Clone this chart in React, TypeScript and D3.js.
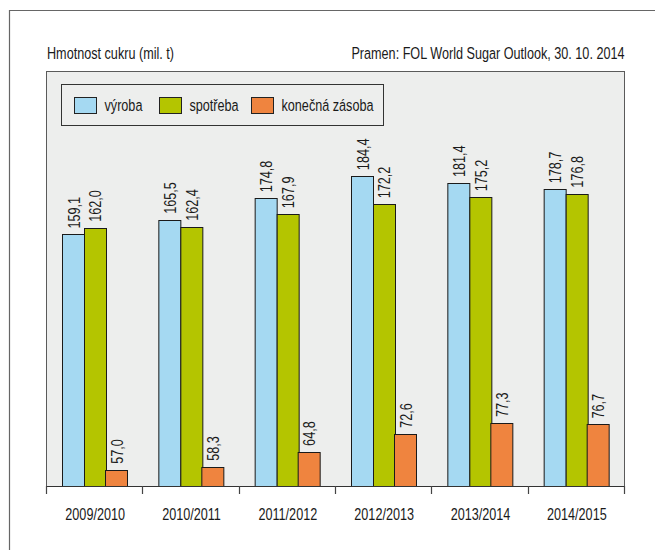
import * as d3 from 'd3';
import React, { useEffect, useRef } from 'react';

const seasons = ["2009/2010", "2010/2011", "2011/2012", "2012/2013", "2013/2014", "2014/2015"];
const keys = ["výroba", "spotřeba", "konečná zásoba"];
const vyroba = [159.1, 165.5, 174.8, 184.4, 181.4, 178.7];
const spotreba = [162.0, 162.4, 167.9, 172.2, 175.2, 176.8];
const zasoba = [57.0, 58.3, 64.8, 72.6, 77.3, 76.7];
const colors = ["#a5d9f2", "#b4c500", "#ef843f"];

const unitLabel = "Hmotnost cukru (mil. t)";
const sourceLabel = "Pramen: FOL World Sugar Outlook, 30. 10. 2014";

// no narrow font installed -> squeeze Liberation Sans horizontally (Arial Narrow ~ 0.82)
const font = "'Liberation Sans', Arial, sans-serif";
const fontSize = 15.6;
const squeeze = 0.81;
const fmt = (v: number) => v.toFixed(1).replace(".", ",");

export default function App() {
  const svgRef = useRef<SVGSVGElement>(null);
  const W = 655, H = 550;
  const plot = { left: 46, right: 624, top: 71, bottom: 486 };

  useEffect(() => {
    const svg = d3.select(svgRef.current);
    svg.selectAll("*").remove();

    const series = [vyroba, spotreba, zasoba];
    const rows = seasons.map((s, i) => ({ season: s, values: series.map(arr => arr[i]) }));

    const x = d3.scaleBand().domain(seasons).range([plot.left, plot.right]);
    const bw = x.bandwidth();
    const x1 = d3.scaleBand().domain(keys).range([bw * 0.171, bw * 0.171 + 64.5]);
    const y = d3.scaleLinear().domain([50, 230]).range([plot.bottom, plot.top]);

    const label = (parent: any, tx: number, ty: number, txt: string, anchor = "start") =>
      parent.append("text")
        .attr("transform", `translate(${tx},${ty}) scale(${squeeze},1)`)
        .attr("text-anchor", anchor)
        .attr("font-family", font).attr("font-size", fontSize).attr("fill", "#1a1a1a")
        .text(txt);

    // outer frame
    svg.append("path")
      .attr("d", `M9.5,${H + 2} V10.5 H${W + 2}`)
      .attr("fill", "none").attr("stroke", "#666").attr("stroke-width", 1.2);

    // header texts
    label(svg, 47, 59, unitLabel);
    label(svg, 624.5, 59, sourceLabel, "end");

    // plot background
    svg.append("rect")
      .attr("x", plot.left + 0.5).attr("y", plot.top + 0.5)
      .attr("width", plot.right - plot.left).attr("height", plot.bottom - plot.top)
      .attr("fill", "#edeeed").attr("stroke", "#5a5a5a").attr("stroke-width", 1);

    // legend
    const lg = svg.append("g").attr("transform", "translate(61.5,84.5)");
    lg.append("rect").attr("width", 322).attr("height", 41)
      .attr("fill", "#edeeed").attr("stroke", "#333").attr("stroke-width", 1);
    const legendX = [13, 98, 190];
    keys.forEach((k, i) => {
      const g = lg.append("g").attr("transform", `translate(${legendX[i]},13)`);
      g.append("rect").attr("width", 22).attr("height", 16)
        .attr("fill", colors[i]).attr("stroke", "#222").attr("stroke-width", 1);
      label(g, 30, 13.5, k);
    });

    // bars
    const groups = svg.append("g").selectAll("g")
      .data(rows)
      .join("g")
      .attr("transform", d => `translate(${x(d.season)},0)`);

    groups.selectAll("rect")
      .data(d => d.values.map((v, i) => ({ key: keys[i], v, i })))
      .join("rect")
      .attr("x", d => Math.round(x1(d.key)!) + 0.5)
      .attr("y", d => Math.round(y(d.v)) + 0.5)
      .attr("width", Math.round(x1.bandwidth()))
      .attr("height", d => plot.bottom - Math.round(y(d.v)))
      .attr("fill", d => colors[d.i])
      .attr("stroke", "#1a1a1a").attr("stroke-width", 1);

    groups.selectAll("text")
      .data(d => d.values.map((v, i) => ({ key: keys[i], v, i })))
      .join("text")
      .attr("transform", d => `translate(${x1(d.key)! + x1.bandwidth() / 2 + 1},${y(d.v) - 6}) rotate(-90) scale(${squeeze},1)`)
      .attr("dominant-baseline", "central")
      .attr("font-family", font).attr("font-size", fontSize).attr("fill", "#1a1a1a")
      .text(d => fmt(d.v));

    // x axis
    const ax = svg.append("g");
    ax.append("line")
      .attr("x1", plot.left).attr("x2", plot.right + 1)
      .attr("y1", plot.bottom + 0.5).attr("y2", plot.bottom + 0.5)
      .attr("stroke", "#333").attr("stroke-width", 1);
    const tickPos = seasons.map(s => x(s)!).concat([plot.right]);
    ax.selectAll("line.tick")
      .data(tickPos)
      .join("line")
      .attr("class", "tick")
      .attr("x1", d => Math.round(d) + 0.5).attr("x2", d => Math.round(d) + 0.5)
      .attr("y1", plot.bottom).attr("y2", plot.bottom + 8)
      .attr("stroke", "#444").attr("stroke-width", 1.2);
    seasons.forEach(s => label(ax, x(s)! + bw / 2 + 1, 520, s, "middle"));
  }, []);

  return (
    <svg ref={svgRef} width={W} height={H}
      style={{ position: "absolute", left: 0, top: 0, background: "#fff" }} />
  );
}
